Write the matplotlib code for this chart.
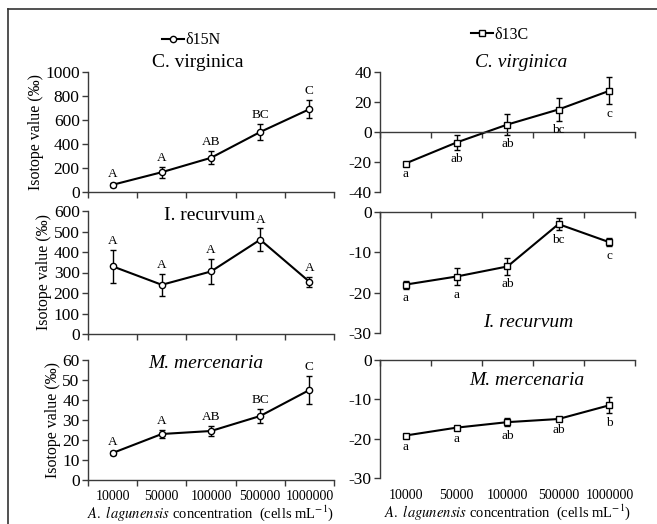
import numpy as np
import matplotlib.pyplot as plt
from matplotlib.lines import Line2D

plt.rcParams['font.family'] = 'Liberation Serif'
plt.rcParams['mathtext.fontset'] = 'stix'
plt.rcParams['axes.unicode_minus'] = False

conc = ['10000', '50000', '100000', '500000', '1000000']

n15_cv = [60, 165, 285, 500, 690]
n15_cv_err = [15, 45, 55, 70, 75]
n15_cv_let = ['A', 'A', 'AB', 'BC', 'C']

n15_ir = [330, 240, 305, 460, 255]
n15_ir_err = [80, 55, 60, 55, 25]
n15_ir_let = ['A', 'A', 'A', 'A', 'A']

n15_mm = [13.5, 23, 24.5, 32, 45]
n15_mm_err = [1, 2, 2.5, 3.5, 7]
n15_mm_let = ['A', 'A', 'AB', 'BC', 'C']

c13_cv = [-21, -7, 5, 15, 27.5]
c13_cv_err = [1, 5, 7, 7.5, 9]
c13_cv_let = ['a', 'ab', 'ab', 'bc', 'c']

c13_ir = [-18, -16, -13.5, -3, -7.5]
c13_ir_err = [1, 2.2, 2, 1.5, 1]
c13_ir_let = ['a', 'a', 'ab', 'bc', 'c']

c13_mm = [-19.2, -17.2, -15.8, -15, -11.5]
c13_mm_err = [0.5, 0.4, 1, 0.5, 2]
c13_mm_let = ['a', 'a', 'ab', 'ab', 'b']

W, H = 657, 524
fig = plt.figure(figsize=(W / 100, H / 100), dpi=100)

# outer frame of the original picture
fig.add_artist(Line2D([8 / W, 1], [1 - 9 / H, 1 - 9 / H], color='#333333', lw=1.2))
fig.add_artist(Line2D([8 / W, 8 / W], [0, 1 - 9 / H], color='#333333', lw=1.2))


def box(x0, x1, y0, y1):
    return [x0 / W, 1 - y1 / H, (x1 - x0) / W, (y1 - y0) / H]


x = np.arange(len(conc))
axc = '#3a3a3a'


def panel(rect, vals, errs, lets, ylim, yticks, marker, above, zero_axis=False):
    ax = fig.add_axes(rect)
    ax.errorbar(x, vals, yerr=errs, color='black', lw=1.5, marker=marker, ms=4.5,
                mfc='white', mec='black', mew=1, ecolor='black', elinewidth=1,
                capsize=2.5, capthick=1)
    for xi, v, e, t in zip(x, vals, errs, lets):
        if above:
            ax.annotate(t, (xi, v + e), xytext=(0, 2), textcoords='offset points',
                        ha='center', va='bottom', fontsize=9.5)
        else:
            ax.annotate(t, (xi, v - e), xytext=(0, -2.5), textcoords='offset points',
                        ha='center', va='top', fontsize=9.5)
    ax.set_xlim(-0.5, len(conc) - 0.5)
    ax.set_ylim(*ylim)
    ax.set_yticks(yticks)
    ax.set_xticks(np.arange(len(conc) + 1) - 0.5)
    ax.set_xticklabels([])
    ax.tick_params(axis='both', direction='out', length=4, width=1, color=axc,
                   labelsize=12.5, pad=2)
    for s in ['top', 'right']:
        ax.spines[s].set_visible(False)
    for s in ['left', 'bottom']:
        ax.spines[s].set_color(axc)
        ax.spines[s].set_linewidth(1)
    if zero_axis:
        ax.spines['bottom'].set_position(('data', 0))
    ax.set_facecolor('none')
    return ax


# left column: d15N
ax1 = panel(box(88, 334, 72, 192), n15_cv, n15_cv_err, n15_cv_let, (0, 1000),
            range(0, 1001, 200), 'o', True)
ax2 = panel(box(88, 334, 211, 334), n15_ir, n15_ir_err, n15_ir_let, (0, 600),
            range(0, 601, 100), 'o', True)
ax3 = panel(box(88, 334, 360, 480), n15_mm, n15_mm_err, n15_mm_let, (0, 60),
            range(0, 61, 10), 'o', True)

for ax in (ax1, ax2, ax3):
    ax.set_ylabel('Isotope value (‰)', fontsize=11.5, labelpad=1)

ax1.text(0.447, 1.08, 'C. virginica', transform=ax1.transAxes, ha='center',
         va='center', fontsize=14)
ax2.text(0.496, 0.965, 'I. recurvum', transform=ax2.transAxes, ha='center',
         va='center', fontsize=14)
ax3.text(0.48, 0.975, 'M. mercenaria', transform=ax3.transAxes, ha='center',
         va='center', fontsize=14, style='italic')

h15 = Line2D([], [], color='black', lw=1.5, marker='o', ms=4.5, mfc='white', mew=1)
ax1.legend([h15], ['δ15N'], loc='center', bbox_to_anchor=(0.42, 1.265),
           frameon=False, fontsize=11.5, handlelength=1.4, handletextpad=0.1,
           borderpad=0)

# right column: d13C
ax4 = panel(box(380, 635, 72, 192), c13_cv, c13_cv_err, c13_cv_let, (-40, 40),
            range(-40, 41, 20), 's', False, zero_axis=True)
ax5 = panel(box(380, 635, 212, 333), c13_ir, c13_ir_err, c13_ir_let, (-30, 0),
            range(-30, 1, 10), 's', False, zero_axis=True)
ax6 = panel(box(380, 635, 360, 478), c13_mm, c13_mm_err, c13_mm_let, (-30, 0),
            range(-30, 1, 10), 's', False, zero_axis=True)

ax4.text(0.553, 1.08, 'C. virginica', transform=ax4.transAxes, ha='center',
         va='center', fontsize=14, style='italic')
ax5.text(0.58, 0.09, 'I. recurvum', transform=ax5.transAxes, ha='center',
         va='center', fontsize=14, style='italic')
ax6.text(0.576, 0.83, 'M. mercenaria', transform=ax6.transAxes, ha='center',
         va='center', fontsize=14, style='italic')

h13 = Line2D([], [], color='black', lw=1.5, marker='s', ms=4.5, mfc='white', mew=1)
ax4.legend([h13], ['δ13C'], loc='center', bbox_to_anchor=(0.47, 1.31),
           frameon=False, fontsize=11.5, handlelength=1.4, handletextpad=0.1,
           borderpad=0)

# category labels under the bottom panels
xlab = r'$\mathit{A.\ lagunensis}$ concentration  (cells mL$^{\mathrm{-1}}$)'
for ax, off in ((ax3, -0.135), (ax6, -0.15)):
    for xi, c in zip(x, conc):
        ax.text(xi, off, c, transform=ax.get_xaxis_transform(), ha='center',
                va='center', fontsize=10)
    ax.text(0.5, off - 0.14, xlab, transform=ax.transAxes, ha='center',
            va='center', fontsize=10.5)

fig.savefig('out.png', dpi=100)
